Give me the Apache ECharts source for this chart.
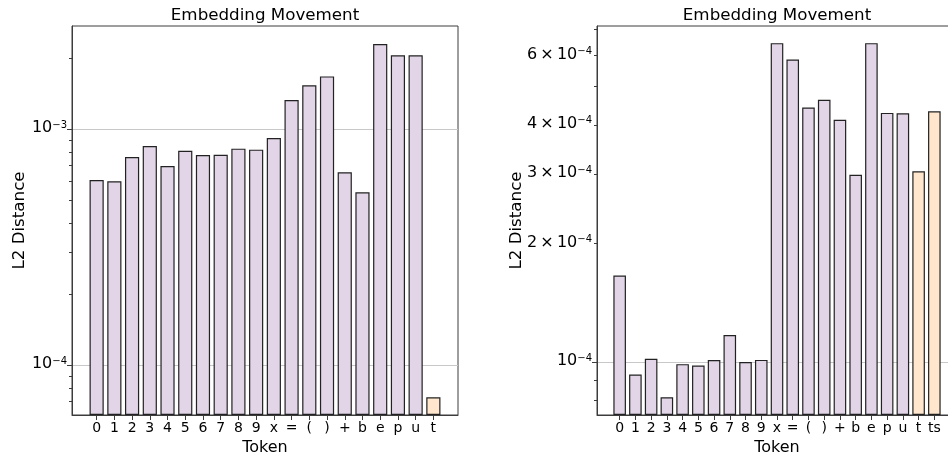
<!DOCTYPE html>
<html>
<head>
<meta charset="utf-8">
<script src="https://cdn.jsdelivr.net/npm/echarts@6/dist/echarts.min.js"></script>
<style>
html,body{margin:0;padding:0;background:#fff;}
#chart{width:948px;height:454px;}
</style>
</head>
<body>
<div id="chart"></div>
<script>
// ---- data ----
const leftTokens = ['0','1','2','3','4','5','6','7','8','9','x','=','(',')','+','b','e','p','u','t'];
const leftValues = [6.08e-4, 6.0e-4, 7.61e-4, 8.47e-4, 6.97e-4, 8.09e-4, 7.76e-4, 7.78e-4, 8.25e-4, 8.17e-4,
                    9.16e-4, 1.327e-3, 1.53e-3, 1.67e-3, 6.55e-4, 5.39e-4, 2.29e-3, 2.05e-3, 2.05e-3, 7.3e-5];
const leftHighlight = ['t'];

const rightTokens = ['0','1','2','3','4','5','6','7','8','9','x','=','(',')','+','b','e','p','u','t','ts'];
const rightValues = [1.658e-4, 9.3e-5, 1.02e-4, 8.14e-5, 9.88e-5, 9.8e-5, 1.012e-4, 1.171e-4, 1.0e-4, 1.013e-4,
                     6.45e-4, 5.86e-4, 4.43e-4, 4.63e-4, 4.12e-4, 2.99e-4, 6.45e-4, 4.29e-4, 4.28e-4, 3.05e-4, 4.33e-4];
const rightHighlight = ['t', 'ts'];

const leftMajorTicks = [1e-4, 1e-3];
const leftMinorTicks = [7e-5, 8e-5, 9e-5, 2e-4, 3e-4, 4e-4, 5e-4, 6e-4, 7e-4, 8e-4, 9e-4, 2e-3];
const leftMinorLabels = [];
const rightMajorTicks = [1e-4];
const rightMinorTicks = [8e-5, 9e-5, 2e-4, 3e-4, 4e-4, 5e-4, 6e-4, 7e-4];
const rightMinorLabels = [2e-4, 3e-4, 4e-4, 6e-4];

const leftYRange = [6.14e-5, 2.73e-3];
const rightYRange = [7.34e-5, 7.13e-4];

// ---- styling ----
const FONT = 'DejaVu Sans';
const PURPLE = '#e1d5e7';
const ORANGE = '#ffe6cc';
const EDGE = '#222222';
const SPINE = '#3c3c3c';

function logLabel(v) {
  const e = Math.floor(Math.log10(v) + 1e-9);
  const m = Math.round(v / Math.pow(10, e));
  const sup = '{s|\u2212' + (-e) + '}';
  if (m === 1) return '{b|10}' + sup;
  return '{b|' + m + '\u2009\u00d7\u200910}' + sup;
}
const richLabel = {
  b: { fontFamily: FONT, fontSize: 16, lineHeight: 18, color: '#000', verticalAlign: 'top' },
  s: { fontFamily: FONT, fontSize: 10, lineHeight: 10, color: '#000', verticalAlign: 'top' }
};

function range(n) { const a = []; for (let i = 0; i < n; i++) a.push(i); return a; }

function xAxisCfg(gridIndex, tokens) {
  const n = tokens.length;
  const margin = 0.05 * (n - 1 + 0.8);
  return {
    type: 'value', gridIndex: gridIndex,
    min: -0.4 - margin, max: n - 1 + 0.4 + margin,
    name: 'Token', nameLocation: 'middle', nameGap: 21,
    nameTextStyle: { fontFamily: FONT, fontSize: 16, color: '#000' },
    axisLine: { show: true, onZero: false, lineStyle: { color: SPINE, width: 1 } },
    axisTick: { show: true, customValues: range(n), length: 5, lineStyle: { color: SPINE, width: 1 } },
    axisLabel: { show: true, customValues: range(n), margin: 6, fontFamily: FONT, fontSize: 14, color: '#000',
                 formatter: v => tokens[Math.round(v)] },
    splitLine: { show: false }
  };
}

function yMajorCfg(gridIndex, yr, ticks, nameGap) {
  return {
    type: 'log', logBase: 10, gridIndex: gridIndex, min: yr[0], max: yr[1], position: 'left',
    startValue: yr[0],
    name: 'L2 Distance', nameLocation: 'middle', nameGap: nameGap,
    nameTextStyle: { fontFamily: FONT, fontSize: 16.7, color: '#000' },
    axisLine: { show: true, onZero: false, lineStyle: { color: SPINE, width: 1 } },
    axisTick: { show: true, customValues: ticks, length: 5, lineStyle: { color: SPINE, width: 1 } },
    axisLabel: { show: true, customValues: ticks, margin: 5, formatter: logLabel, rich: richLabel },
    splitLine: { show: true, lineStyle: { color: '#c8c8c8', width: 1 } },
    minorTick: { show: false }, minorSplitLine: { show: false }
  };
}

function yMinorCfg(gridIndex, yr, ticks, labels) {
  return {
    type: 'log', logBase: 10, gridIndex: gridIndex, min: yr[0], max: yr[1], position: 'left',
    axisLine: { show: false, onZero: false },
    axisTick: { show: true, customValues: ticks, length: 3, lineStyle: { color: SPINE, width: 1 } },
    axisLabel: { show: labels.length > 0, customValues: labels, margin: 5, formatter: logLabel, rich: richLabel },
    splitLine: { show: false }
  };
}

function barData(tokens, values, highlight) {
  return values.map((v, i) => ({
    value: [i, v],
    itemStyle: { color: highlight.indexOf(tokens[i]) >= 0 ? ORANGE : PURPLE }
  }));
}

const chart = echarts.init(document.getElementById('chart'), null, { renderer: 'canvas' });
const option = {
  backgroundColor: '#fff',
  animation: false,
  title: [
    { text: 'Embedding Movement', left: 265, top: 7, textAlign: 'center', padding: 0,
      textStyle: { fontFamily: FONT, fontSize: 16.7, fontWeight: 'normal', color: '#000' } },
    { text: 'Embedding Movement', left: 777, top: 7, textAlign: 'center', padding: 0,
      textStyle: { fontFamily: FONT, fontSize: 16.7, fontWeight: 'normal', color: '#000' } }
  ],
  grid: [
    { left: 72, top: 26, width: 386, height: 389, show: true, borderColor: SPINE, borderWidth: 1,
      backgroundColor: 'transparent', containLabel: false, outerBoundsMode: 'none' },
    { left: 597, top: 26, width: 360, height: 389, show: true, borderColor: SPINE, borderWidth: 1,
      backgroundColor: 'transparent', containLabel: false, outerBoundsMode: 'none' }
  ],
  xAxis: [ xAxisCfg(0, leftTokens), xAxisCfg(1, rightTokens) ],
  yAxis: [
    yMajorCfg(0, leftYRange, leftMajorTicks, 44),
    yMinorCfg(0, leftYRange, leftMinorTicks, leftMinorLabels),
    yMajorCfg(1, rightYRange, rightMajorTicks, 72),
    yMinorCfg(1, rightYRange, rightMinorTicks, rightMinorLabels)
  ],
  series: [
    { type: 'bar', xAxisIndex: 0, yAxisIndex: 0, barWidth: '80%',
      data: barData(leftTokens, leftValues, leftHighlight),
      itemStyle: { borderColor: EDGE, borderWidth: 1.2 } },
    { type: 'bar', xAxisIndex: 1, yAxisIndex: 2, barWidth: '80%',
      data: barData(rightTokens, rightValues, rightHighlight),
      itemStyle: { borderColor: EDGE, borderWidth: 1.2 } }
  ]
};
chart.setOption(option);
</script>
</body>
</html>
